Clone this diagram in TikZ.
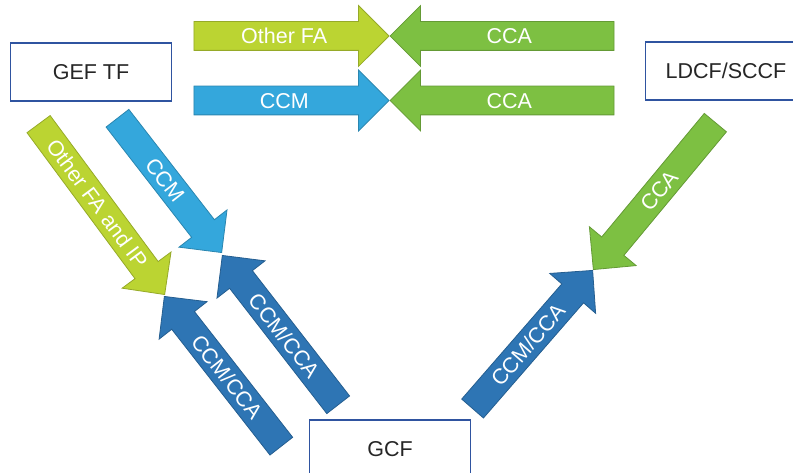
\documentclass[tikz,border=0pt]{standalone}
\usepackage{fontspec}
\setmainfont{Liberation Sans}
\usepackage{xcolor}
\usetikzlibrary{shapes,arrows,positioning}

\definecolor{limegreen}{RGB}{187,212,50}
\definecolor{leafgreen}{RGB}{125,192,66}
\definecolor{skyblue}{RGB}{52,167,220}
\definecolor{deepblue}{RGB}{46,117,180}
\definecolor{boxblue}{RGB}{47,84,160}

\begin{document}
\begin{tikzpicture}[x=1pt, y=-1pt, font=\fontsize{21.5}{26}\selectfont]
\tikzstyle{box} = [rectangle, draw=boxblue, line width=1.2pt, fill=white, minimum width=161pt, minimum height=58pt, text=black!85]
\tikzstyle{flow} = [single arrow, single arrow head extend=16pt, single arrow tip angle=90, single arrow head indent=0pt, text=white, text height=15.4pt, text depth=0pt, inner ysep=6.3pt, inner xsep=4pt, anchor=tip, line width=0.8pt]
\tikzstyle{back} = [shape border rotate=180]
\tikzstyle{lime} = [fill=limegreen, draw=limegreen!80!black]
\tikzstyle{leaf} = [fill=leafgreen, draw=leafgreen!80!black]
\tikzstyle{sky} = [fill=skyblue, draw=skyblue!80!black]
\tikzstyle{deep} = [fill=deepblue, draw=deepblue!80!black]

\useasboundingbox (0,0) rectangle (793,473);

% top pair of rows
\node [flow, lime, minimum height=195pt] (otherfa) at (389.5,36) {Other FA};
\node [flow, leaf, back, minimum height=224pt] (ccatop) at (389.5,36) {CCA};
\node [flow, sky, minimum height=195pt] (ccm) at (389.5,100.5) {CCM};
\node [flow, leaf, back, minimum height=224pt] (ccamid) at (389.5,100.5) {CCA};

% left side
\node [flow, lime, rotate=-53.5, minimum height=212pt] (otherfaip) at (165,295) {Other FA and IP};
\node [flow, sky, rotate=-52.2, minimum height=170pt] (ccmdiag) at (222,253) {CCM};
\node [flow, deep, back, rotate=-52.2, minimum height=189pt] (ccmccaup) at (222,255) {CCM/CCA};
\node [flow, deep, back, rotate=-52, minimum height=190pt] (ccmccalow) at (164,296) {CCM/CCA};

% right side
\node [flow, leaf, back, rotate=50.3, minimum height=191pt] (ccaright) at (593,270) {CCA};
\node [flow, deep, rotate=49, minimum height=183pt] (ccmccaright) at (593,270) {CCM/CCA};

% funds
\node [box] (geftf) at (91,72) {GEF TF};
\node [box] (ldcf) at (726,71) {LDCF/SCCF};
\node [box] (gcf) at (390,449) {GCF};

\end{tikzpicture}
\end{document}
